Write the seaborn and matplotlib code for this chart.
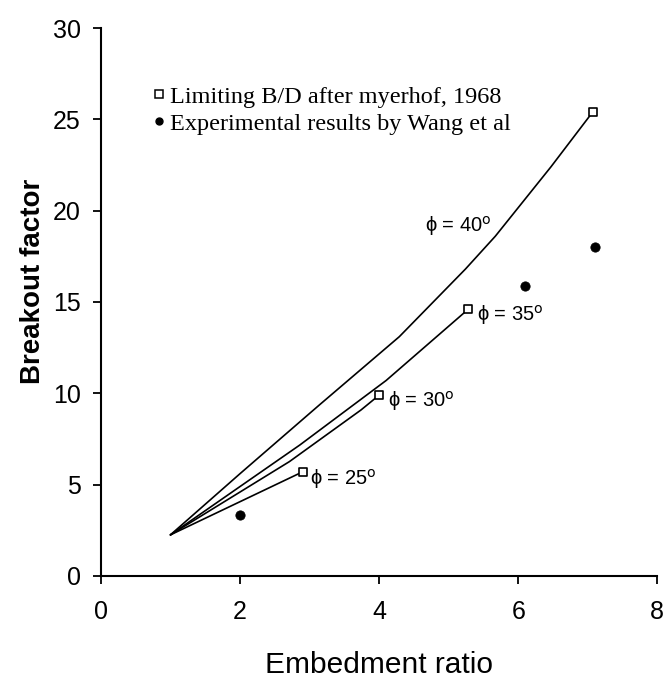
import matplotlib
matplotlib.use("Agg")
import matplotlib.pyplot as plt
import seaborn as sns
import pandas as pd
from matplotlib.lines import Line2D

# limiting curves (Meyerhof)
phi40_x = [1.0, 2.0, 3.14, 4.29, 5.24, 5.67, 6.47, 7.07]
phi40_y = [2.25, 5.6, 9.36, 13.1, 16.8, 18.6, 22.4, 25.4]
phi35_x = [1.0, 2.86, 4.1, 5.28]
phi35_y = [2.25, 7.17, 10.7, 14.6]
phi30_x = [1.0, 2.71, 3.74, 4.0]
phi30_y = [2.25, 6.26, 9.09, 9.9]
phi25_x = [1.0, 2.9]
phi25_y = [2.25, 5.7]

# experimental points (Wang et al)
wang_x = [2.0, 6.1, 7.1]
wang_y = [3.35, 15.9, 18.0]

x_ticks = [0, 2, 4, 6, 8]
y_ticks = [0, 5, 10, 15, 20, 25, 30]

curves = [
    ("40", phi40_x, phi40_y),
    ("35", phi35_x, phi35_y),
    ("30", phi30_x, phi30_y),
    ("25", phi25_x, phi25_y),
]

sns.set_style("ticks")
sans = ["Liberation Sans", "DejaVu Sans"]
plt.rcParams["font.family"] = sans
plt.rcParams["mathtext.fontset"] = "dejavusans"
for key in ["text.color", "axes.labelcolor", "xtick.color", "ytick.color", "axes.edgecolor"]:
    plt.rcParams[key] = "black"

fig = plt.figure(figsize=(6.64, 6.84), dpi=100)
ax = fig.add_axes([0.152, 0.158, 0.838, 0.801])

for phi, xs, ys in curves:
    df = pd.DataFrame({"x": xs, "y": ys})
    sns.lineplot(data=df, x="x", y="y", ax=ax, color="black", lw=1.2,
                 sort=False, estimator=None)
    end = df.iloc[[-1]]
    sns.scatterplot(data=end, x="x", y="y", ax=ax, marker="s", s=30,
                    facecolor="white", edgecolor="black", linewidth=1.2, zorder=5)

wang = pd.DataFrame({"x": wang_x, "y": wang_y})
sns.scatterplot(data=wang, x="x", y="y", ax=ax, marker="o", s=45,
                color="black", edgecolor="black", zorder=5)

# curve labels
lab_kw = dict(fontsize=14.5, family=sans, va="baseline")
deg = "$^{\\mathrm{o}}$"
ax.text(5.62, 18.85, "\u03d5 = 40" + deg, ha="right", **lab_kw)
ax.text(5.4, 14.0, "\u03d5 = 35" + deg, ha="left", **lab_kw)
ax.text(4.13, 9.27, "\u03d5 = 30" + deg, ha="left", **lab_kw)
ax.text(3.0, 4.98, "\u03d5 = 25" + deg, ha="left", **lab_kw)

handles = [
    Line2D([], [], ls="none", marker="s", markersize=5.5, markerfacecolor="white",
           markeredgecolor="black", markeredgewidth=1.1),
    Line2D([], [], ls="none", marker="o", markersize=5, color="black"),
]
ax.legend(handles, ["Limiting B/D after myerhof, 1968",
                    "Experimental results by Wang et al"],
          loc="upper left", bbox_to_anchor=(0.074, 0.912), frameon=False,
          handlelength=0.6, handletextpad=0.15, labelspacing=0.2,
          borderaxespad=0, prop={"family": "Liberation Serif", "size": 17.5})

ax.set_xlim(0, 8)
ax.set_ylim(0, 30)
ax.set_xticks(x_ticks)
ax.set_yticks(y_ticks)
ax.tick_params(axis="both", direction="out", length=5.5, width=1.3, labelsize=18)
ax.tick_params(axis="x", pad=12)
ax.tick_params(axis="y", pad=9)
ax.set_xlabel("Embedment ratio", fontsize=21.5)
ax.xaxis.set_label_coords(0.5, -0.137)
ax.set_ylabel("Breakout factor", fontsize=20, fontweight="bold", va="center")
ax.yaxis.set_label_coords(-0.122, 0.538)
for side in ["top", "right"]:
    ax.spines[side].set_visible(False)
for side in ["left", "bottom"]:
    ax.spines[side].set_linewidth(1.5)

fig.savefig("out.png", dpi=100)
